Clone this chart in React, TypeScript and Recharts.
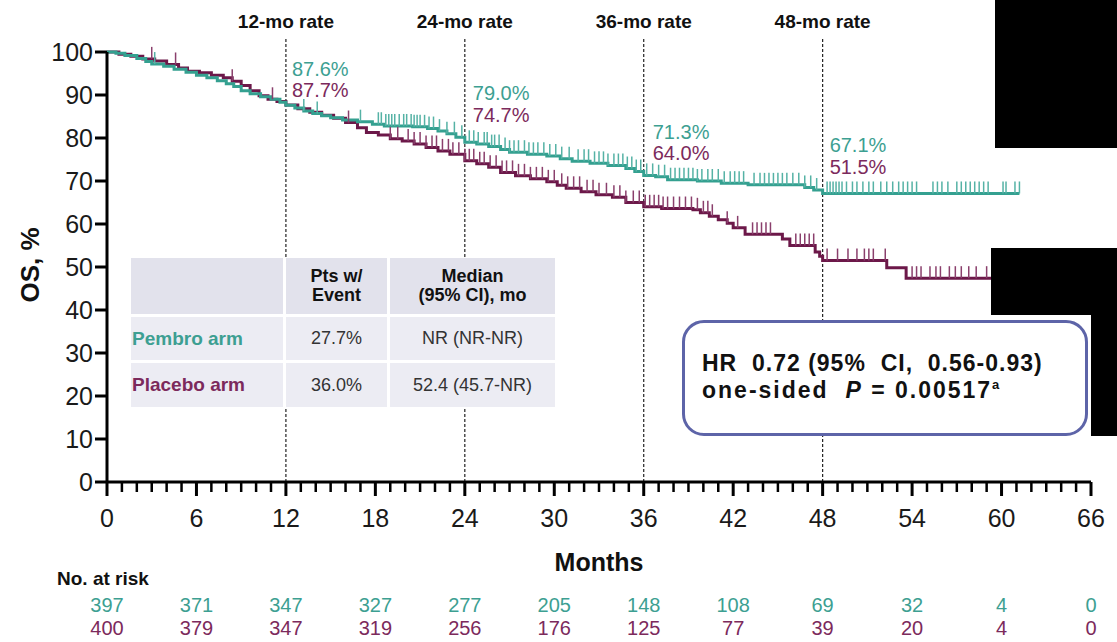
import React from 'react';
import { ComposedChart, Line, Scatter, XAxis, YAxis, ReferenceLine } from 'recharts';

const FONT = '"Liberation Sans", Arial, Helvetica, sans-serif';
const TEAL = '#34a090';
const TEAL_MARK = '#55b2a5';
const TEAL_TEXT = '#3d9f92';
const PLUM = '#6c1849';
const PLUM_MARK = '#8a3f6c';
const PLUM_TEXT = '#7c2a5c';

// KM steps for each arm: [month, OS %]
const pembroSteps: [number, number][] = [
    [0, 100], [0.6, 99.7], [1.2, 99.2], [2.0, 98.5], [2.6, 97.8], [3.0, 97.2], [3.8, 96.7], [4.5, 96.0],
    [5.3, 95.3], [6.0, 94.6], [6.7, 94.0], [7.4, 93.3], [8.0, 92.6], [8.5, 92.0], [9.0, 91.0], [9.6, 90.3],
    [10.3, 89.6], [11.0, 89.0], [11.6, 88.3], [12.0, 87.6], [12.6, 87.0], [13.2, 86.3], [13.8, 85.7],
    [14.4, 85.2], [15.0, 84.7], [15.8, 84.2], [16.8, 83.8], [17.8, 83.2], [18.6, 82.8], [20.5, 82.6],
    [21.5, 82.2], [22.2, 81.6], [22.8, 81.0], [23.4, 80.2], [24.0, 79.0], [24.8, 78.6], [25.6, 78.0],
    [26.4, 77.3], [27.0, 76.7], [28.2, 76.2], [29.5, 75.8], [30.4, 75.2], [31.2, 74.6], [32.4, 74.1],
    [33.6, 73.6], [34.8, 72.9], [35.4, 72.2], [36.0, 71.3], [36.8, 71.0], [37.6, 70.3], [39.6, 70.0],
    [41.2, 69.5], [43.0, 69.1], [46.8, 68.5], [47.4, 67.9], [48.0, 67.1], [61.2, 67.1],
];

const placeboSteps: [number, number][] = [
    [0, 100], [0.8, 99.5], [1.6, 99.0], [2.4, 98.4], [3.2, 97.9], [4.0, 97.1], [4.8, 96.3], [5.4, 95.5],
    [6.2, 95.2], [7.0, 94.6], [7.8, 94.0], [8.4, 93.2], [9.0, 92.2], [9.6, 91.0], [10.2, 89.8],
    [10.8, 89.0], [11.4, 88.5], [12.0, 87.7], [12.8, 86.8], [13.6, 86.0], [14.4, 85.3], [15.2, 84.6],
    [16.0, 83.6], [16.8, 82.4], [17.4, 81.3], [18.2, 80.7], [19.0, 79.8], [19.8, 79.3], [20.6, 78.6],
    [21.4, 77.8], [22.2, 77.0], [23.0, 76.2], [24.0, 74.7], [24.8, 74.0], [25.6, 73.2], [26.4, 72.0],
    [27.4, 71.2], [28.4, 70.5], [29.5, 69.8], [30.2, 69.0], [30.8, 68.3], [31.8, 67.5], [32.8, 66.8],
    [33.9, 66.2], [34.8, 65.0], [36.0, 64.0], [37.2, 63.6], [39.3, 63.3], [39.8, 62.6], [40.4, 61.8],
    [41.0, 61.0], [41.6, 60.2], [42.0, 59.1], [42.8, 57.6], [45.3, 56.5], [45.8, 55.0], [47.5, 53.5],
    [47.8, 52.5], [48.0, 51.5], [52.3, 49.8], [53.6, 47.4], [60.5, 47.4],
];

// censoring times (months)
const pembroCensored = [
    3.2, 13.2, 14.1, 17.0, 18.2, 18.4, 18.7, 18.9, 19.1, 19.3, 19.6, 19.9, 20.1, 20.4, 20.6, 20.8, 21.0,
    21.3, 21.6, 21.9, 22.3, 22.8, 23.3, 23.8, 24.3, 24.6, 24.9, 25.3, 25.5, 25.8, 26.0, 26.3, 26.7, 27.0,
    27.3, 27.6, 28.0, 28.3, 28.6, 28.9, 29.3, 29.7, 30.1, 30.5, 31.0, 31.6, 32.0, 32.3, 32.7, 33.0, 33.3,
    33.6, 34.0, 34.3, 34.6, 34.9, 35.2, 35.5, 35.8, 36.2, 36.6, 37.0, 37.4, 37.8, 38.1, 38.4, 38.7, 39.0,
    39.3, 39.6, 39.9, 40.3, 40.6, 41.0, 41.4, 41.8, 42.1, 42.4, 42.7, 43.4, 43.8, 44.1, 44.4, 44.7, 45.0,
    45.3, 45.6, 46.0, 46.4, 46.8, 47.2, 47.6, 48.3, 48.5, 48.7, 48.9, 49.1, 49.3, 49.6, 50.0, 50.3, 50.7,
    51.1, 51.4, 51.9, 52.3, 52.7, 53.1, 53.4, 53.7, 54.0, 54.3, 55.4, 55.7, 56.0, 56.4, 57.0, 57.3, 57.6,
    57.9, 58.2, 58.5, 58.8, 59.1, 60.1, 60.3, 60.9, 61.2,
];

const placeboCensored = [
    3.0, 4.6, 8.4, 11.1, 16.2, 19.0, 19.5, 20.2, 20.6, 21.0, 21.4, 21.8, 22.1, 22.5, 22.9, 23.2, 23.6,
    24.0, 24.3, 24.6, 25.0, 25.3, 25.7, 26.1, 26.5, 26.8, 27.2, 27.6, 28.0, 28.4, 28.8, 29.2, 29.6, 30.0,
    30.5, 30.9, 31.3, 31.7, 32.2, 32.6, 33.0, 33.5, 34.0, 34.4, 34.8, 35.3, 35.7, 36.1, 36.4, 36.7, 37.0,
    37.3, 37.6, 38.0, 38.4, 38.8, 39.2, 39.6, 40.0, 40.3, 40.6, 41.6, 42.3, 43.3, 43.6, 43.9, 44.2, 44.5,
    46.2, 46.5, 46.8, 47.1, 47.4, 48.3, 49.0, 49.7, 50.3, 50.8, 51.1, 51.4, 52.2, 54.0, 54.3, 54.6, 55.2,
    55.6, 55.9, 56.5, 56.9, 57.3, 57.8, 58.3, 59.0, 59.8, 60.3,
];

const riskMonths = [0, 6, 12, 18, 24, 30, 36, 42, 48, 54, 60, 66];
const pembroAtRisk = [397, 371, 347, 327, 277, 205, 148, 108, 69, 32, 4, 0];
const placeboAtRisk = [400, 379, 347, 319, 256, 176, 125, 77, 39, 20, 4, 0];

const landmarkMonths = [12, 24, 36, 48];
const pembroRates = ['87.6%', '79.0%', '71.3%', '67.1%'];
const placeboRates = ['87.7%', '74.7%', '64.0%', '51.5%'];

const yTicks = [0, 10, 20, 30, 40, 50, 60, 70, 80, 90, 100];
const monthTicks = Array.from({ length: 67 }, (_, i) => i);

const armNames = ['Pembro arm', 'Placebo arm'];
const eventPct = ['27.7%', '36.0%'];
const medianOS = ['NR (NR-NR)', '52.4 (45.7-NR)'];

const survivalAt = (steps: [number, number][], t: number) => {
    let s = steps[0][1];
    for (const [st, sv] of steps) {
        if (st <= t) s = sv;
        else break;
    }
    return s;
};

const toPoints = (steps: [number, number][]) => steps.map(([t, s]) => ({ t, s }));
const censorPoints = (times: number[], steps: [number, number][]) => times.map(t => ({ t, s: survivalAt(steps, t) }));

// label placement next to each landmark line: x shift and two baselines
const rateLabelLayout = [
    { dx: 6, y1: 76, y2: 97 },
    { dx: 8, y1: 100, y2: 122 },
    { dx: 9, y1: 139, y2: 160 },
    { dx: 7, y1: 152, y2: 174 },
];

const CensorMark = (props: any) => {
    const { cx, cy, fill } = props;
    if (cx == null || cy == null) return null;
    return <line x1={cx} x2={cx} y1={cy} y2={cy - 12} stroke={fill} strokeWidth={1.5} />;
};

const MonthTick = (props: any) => {
    const { x, y, payload } = props;
    const major = payload.value % 6 === 0;
    return (
        <g>
            <line x1={x} x2={x} y1={y} y2={y + (major ? 14 : 10)} stroke="#000" strokeWidth={major ? 3 : 2.5} />
            {major && (
                <text x={x} y={y + 45} textAnchor="middle" fontSize={25} fontFamily={FONT} fill="#1a1a1a">
                    {payload.value}
                </text>
            )}
        </g>
    );
};

const RiskTick = (props: any) => {
    const { x, y, payload, counts, color, baseline } = props;
    const i = riskMonths.indexOf(payload.value);
    if (i < 0) return null;
    return (
        <text x={x} y={y + baseline} textAnchor="middle" fontSize={20} fontFamily={FONT} fill={color}>
            {counts[i]}
        </text>
    );
};

const LandmarkLabel = (props: any) => {
    const { viewBox, idx } = props;
    const x = viewBox.x + (viewBox.width || 0) / 2;
    const top = viewBox.height < 0 ? viewBox.y + viewBox.height : viewBox.y;
    const lay = rateLabelLayout[idx];
    return (
        <g fontFamily={FONT}>
            <text x={x} y={top - 9} textAnchor="middle" fontSize={19} fontWeight={700} fill="#111">
                {landmarkMonths[idx]}-mo rate
            </text>
            <text x={x + lay.dx} y={lay.y1} fontSize={20} fill={TEAL_TEXT}>{pembroRates[idx]}</text>
            <text x={x + lay.dx} y={lay.y2} fontSize={20} fill={PLUM_TEXT}>{placeboRates[idx]}</text>
        </g>
    );
};

const cellBase: React.CSSProperties = {
    display: 'flex',
    alignItems: 'center',
    justifyContent: 'center',
    fontSize: 18,
    color: '#333',
};

const App: React.FC = () => {
    const pembroLine = toPoints(pembroSteps);
    const placeboLine = toPoints(placeboSteps);
    const pembroMarks = censorPoints(pembroCensored, pembroSteps);
    const placeboMarks = censorPoints(placeboCensored, placeboSteps);

    return (
        <div style={{ position: 'absolute', left: 0, top: 0, width: 1117, height: 642, background: '#fff', fontFamily: FONT, overflow: 'hidden' }}>
            <ComposedChart width={1117} height={642} margin={{ top: 52, right: 26, bottom: 12, left: 17 }}>
                <XAxis
                    type="number"
                    dataKey="t"
                    domain={[0, 66]}
                    allowDataOverflow
                    ticks={monthTicks}
                    interval={0}
                    height={100}
                    tickSize={0}
                    tickMargin={0}
                    tickLine={false}
                    axisLine={{ stroke: '#000', strokeWidth: 3 }}
                    tick={<MonthTick />}
                    label={{
                        content: (p: any) => (
                            <text x={p.viewBox.x + p.viewBox.width / 2} y={p.viewBox.y + 89} textAnchor="middle" fontSize={25} fontWeight={700} fontFamily={FONT} fill="#111">
                                Months
                            </text>
                        ),
                    }}
                />
                <XAxis
                    xAxisId="riskPembro"
                    type="number"
                    dataKey="t"
                    domain={[0, 66]}
                    allowDataOverflow
                    ticks={riskMonths}
                    interval={0}
                    height={24}
                    tickSize={0}
                    tickMargin={0}
                    axisLine={false}
                    tickLine={false}
                    tick={<RiskTick counts={pembroAtRisk} color={TEAL_TEXT} baseline={30} />}
                    label={{
                        content: (p: any) => (
                            <text x={p.viewBox.x - 50} y={p.viewBox.y + 3} fontSize={19} fontWeight={700} fontFamily={FONT} fill="#111">
                                No. at risk
                            </text>
                        ),
                    }}
                />
                <XAxis
                    xAxisId="riskPlacebo"
                    type="number"
                    dataKey="t"
                    domain={[0, 66]}
                    allowDataOverflow
                    ticks={riskMonths}
                    interval={0}
                    height={24}
                    tickSize={0}
                    tickMargin={0}
                    axisLine={false}
                    tickLine={false}
                    tick={<RiskTick counts={placeboAtRisk} color={PLUM_TEXT} baseline={29} />}
                />
                <YAxis
                    type="number"
                    dataKey="s"
                    domain={[0, 100]}
                    ticks={yTicks}
                    interval={0}
                    width={90}
                    tickSize={12}
                    tickMargin={2}
                    axisLine={{ stroke: '#000', strokeWidth: 3 }}
                    tickLine={{ stroke: '#000', strokeWidth: 3 }}
                    tick={{ fontSize: 25, fill: '#1a1a1a', fontFamily: FONT }}
                    label={{
                        content: (p: any) => {
                            const cy = p.viewBox.y + p.viewBox.height / 2 - 2;
                            return (
                                <text
                                    x={30}
                                    y={cy}
                                    transform={`rotate(-90, 30, ${cy})`}
                                    textAnchor="middle"
                                    dominantBaseline="central"
                                    fontSize={26}
                                    fontWeight={700}
                                    fontFamily={FONT}
                                    fill="#111"
                                >
                                    OS, %
                                </text>
                            );
                        },
                    }}
                />

                {landmarkMonths.map((m, i) => (
                    <ReferenceLine
                        key={m}
                        segment={[{ x: m, y: 0 }, { x: m, y: 103.4 }]}
                        ifOverflow="visible"
                        stroke="#222"
                        strokeWidth={1.2}
                        strokeDasharray="3 2"
                        label={<LandmarkLabel idx={i} />}
                    />
                ))}

                <Line data={placeboLine} dataKey="s" type="stepAfter" stroke={PLUM} strokeWidth={3} dot={false} activeDot={false} isAnimationActive={false} />
                <Scatter data={placeboMarks} dataKey="s" fill={PLUM_MARK} shape={<CensorMark />} isAnimationActive={false} />
                <Line data={pembroLine} dataKey="s" type="stepAfter" stroke={TEAL} strokeWidth={3} dot={false} activeDot={false} isAnimationActive={false} />
                <Scatter data={pembroMarks} dataKey="s" fill={TEAL_MARK} shape={<CensorMark />} isAnimationActive={false} />
            </ComposedChart>

            {/* summary table */}
            <div
                style={{
                    position: 'absolute', left: 131, top: 258, width: 424, height: 149,
                    display: 'grid', gridTemplateColumns: '152px 101px 165px', gridTemplateRows: '56px 43px 44px',
                    gap: 3, background: '#fff',
                }}
            >
                <div style={{ ...cellBase, background: '#e2e2ec' }} />
                <div style={{ ...cellBase, background: '#e2e2ec', fontWeight: 700, color: '#111', textAlign: 'center', lineHeight: '19px' }}>
                    Pts w/<br />Event
                </div>
                <div style={{ ...cellBase, background: '#e2e2ec', fontWeight: 700, color: '#111', textAlign: 'center', lineHeight: '19px' }}>
                    Median<br />(95% CI), mo
                </div>
                {armNames.map((name, i) => (
                    <React.Fragment key={name}>
                        <div style={{ ...cellBase, background: '#ececf3', justifyContent: 'flex-start', paddingLeft: 1, fontWeight: 700, color: i === 0 ? TEAL_TEXT : PLUM_TEXT, fontSize: 19 }}>
                            {name}
                        </div>
                        <div style={{ ...cellBase, background: '#ececf3' }}>{eventPct[i]}</div>
                        <div style={{ ...cellBase, background: '#ececf3' }}>{medianOS[i]}</div>
                    </React.Fragment>
                ))}
            </div>

            {/* hazard ratio box */}
            <div
                style={{
                    position: 'absolute', left: 682, top: 320, width: 406, height: 116, boxSizing: 'border-box',
                    border: '3px solid #5d64a8', borderRadius: 22, background: '#fff',
                }}
            >
                <div style={{ position: 'absolute', left: 17, top: 27, fontSize: 23, fontWeight: 700, lineHeight: '27px', color: '#111', whiteSpace: 'pre' }}>
                    <span style={{ letterSpacing: 1 }}>{'HR  0.72 (95%  CI,  0.56-0.93)'}</span>
                    <br />
                    <span style={{ letterSpacing: 2 }}>
                        {'one-sided  '}
                        <i>P</i>
                        {' = 0.00517'}
                    </span>
                    <span style={{ fontSize: 13, position: 'relative', top: -9 }}>a</span>
                </div>
            </div>

            {/* blacked-out regions */}
            <div style={{ position: 'absolute', left: 995, top: 0, width: 122, height: 148, background: '#000' }} />
            <div style={{ position: 'absolute', left: 991, top: 248, width: 126, height: 67, background: '#000' }} />
            <div style={{ position: 'absolute', left: 1091, top: 315, width: 26, height: 121, background: '#000' }} />
        </div>
    );
};

export default App;
